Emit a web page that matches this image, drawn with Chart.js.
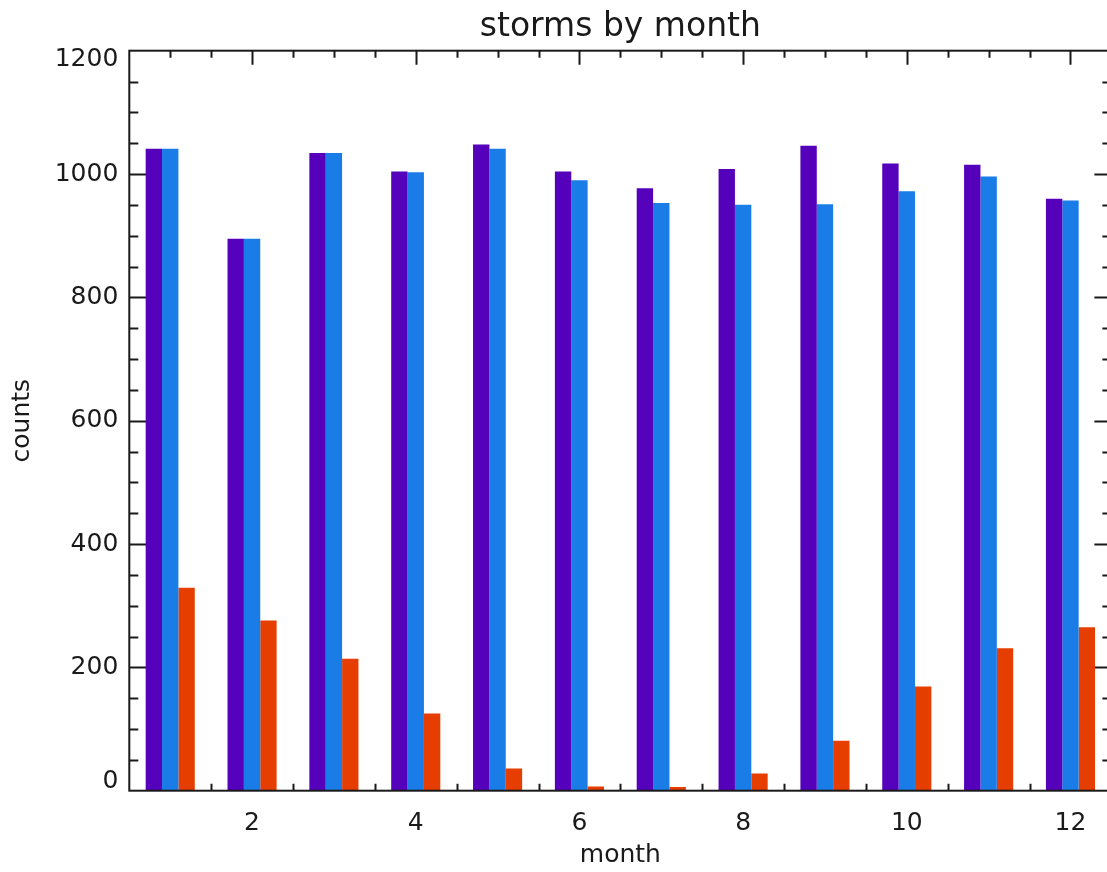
<!DOCTYPE html>
<html>
<head>
<meta charset="utf-8">
<script src="https://cdn.jsdelivr.net/npm/chart.js@4/dist/chart.umd.min.js"></script>
<style>
  html, body { margin: 0; padding: 0; background: #fff; overflow: hidden; }
  canvas { display: block; }
</style>
</head>
<body>
<canvas id="storms" width="1140" height="872"></canvas>
<script>
// storms per month, three series
const months = [1, 2, 3, 4, 5, 6, 7, 8, 9, 10, 11, 12]
const seriesA = [1041, 895, 1034, 1004, 1048, 1004, 977, 1008, 1046, 1017, 1015, 960]
const seriesB = [1041, 895, 1034, 1003, 1041, 990, 953, 950, 951, 972, 996, 957]
const seriesC = [329, 276, 214, 125, 36, 7, 6, 28, 81, 169, 231, 265]

const xTickLabels = [2, 4, 6, 8, 10, 12]
const yTickLabels = [0, 200, 400, 600, 800, 1000, 1200]

const ink = "#1a1a1a"
const font = "DejaVu Sans"

const toPoints = (vals) => months.map((m, i) => ({ x: m, y: vals[i] }))

// IDL style box with inward ticks on all four sides
const axisBox = {
  id: "axisBox",
  beforeDatasetsDraw(chart) {
    const { ctx, chartArea: a, scales: { x, y } } = chart
    ctx.save()
    ctx.strokeStyle = ink
    ctx.lineWidth = 2
    ctx.beginPath()
    for (let v = 50; v < 1200; v += 50) {
      const py = Math.round(y.getPixelForValue(v)) + 0.5
      const len = v % 200 === 0 ? 17 : 9
      ctx.moveTo(a.left, py); ctx.lineTo(a.left + len, py)
      ctx.moveTo(a.right, py); ctx.lineTo(a.right - len, py)
    }
    for (let v = 1; v < 12.5; v += 0.5) {
      const px = Math.round(x.getPixelForValue(v)) + 0.5
      const len = v % 2 === 0 ? 14 : 7
      ctx.moveTo(px, a.top); ctx.lineTo(px, a.top + len)
      ctx.moveTo(px, a.bottom); ctx.lineTo(px, a.bottom - len)
    }
    ctx.stroke()
    ctx.restore()
  },
  afterDatasetsDraw(chart) {
    const { ctx, chartArea: a } = chart
    ctx.save()
    ctx.strokeStyle = ink
    ctx.lineWidth = 2
    ctx.strokeRect(a.left, a.top, a.right - a.left, a.bottom - a.top)
    ctx.restore()
  },
}

const data = {
  datasets: [
    { label: "a", data: toPoints(seriesA), backgroundColor: "#5500bb" },
    { label: "b", data: toPoints(seriesB), backgroundColor: "#1a7ce6" },
    { label: "c", data: toPoints(seriesC), backgroundColor: "#e63d00" },
  ],
}

const config = {
  type: "bar",
  data: data,
  plugins: [axisBox],
  options: {
    responsive: false,
    animation: false,
    devicePixelRatio: 1,
    layout: { padding: { left: 0, right: 28.6, top: 0, bottom: 0 } },
    datasets: { bar: { categoryPercentage: 0.6, barPercentage: 1.0 } },
    plugins: { legend: { display: false }, tooltip: { enabled: false }, title: { display: false } },
    scales: {
      x: {
        type: "linear",
        position: "bottom",
        min: 0.5,
        max: 12.5,
        offset: false,
        grid: { display: false, drawTicks: false },
        border: { display: false },
        afterBuildTicks: (s) => { s.ticks = xTickLabels.map((v) => ({ value: v })) },
        afterFit: (s) => { s.height = 81.3 },
        ticks: { color: ink, padding: 17.6, maxRotation: 0, font: { family: font, size: 25 } },
        title: { display: true, text: "month", color: ink, padding: { top: 0, bottom: 2 }, font: { family: font, size: 25 } },
      },
      x2: {
        type: "linear",
        position: "top",
        min: 0.5,
        max: 12.5,
        grid: { display: false, drawTicks: false },
        border: { display: false },
        ticks: { display: false },
        afterFit: (s) => { s.height = 50.7 },
        title: { display: true, text: "storms by month", color: ink, padding: { top: 7.5, bottom: 0 }, font: { family: font, size: 33 } },
      },
      y: {
        min: 0,
        max: 1200,
        grid: { display: false, drawTicks: false },
        border: { display: false },
        afterBuildTicks: (s) => { s.ticks = yTickLabels.map((v) => ({ value: v })) },
        afterFit: (s) => { s.width = 129.3 },
        ticks: {
          color: ink,
          padding: 11,
          font: { family: font, size: 25, lineHeight: 0.72 },
          // end labels sit inside the axis range, as in the original
          callback: (v) => v === 1200 ? ["", "1200"] : v === 0 ? ["0", ""] : String(v),
        },
        title: { display: true, text: "counts", color: ink, padding: { top: 7.3, bottom: 0 }, font: { family: font, size: 25 } },
      },
    },
  },
}

const stormsChart = new Chart(document.getElementById("storms"), config)
</script>
</body>
</html>
